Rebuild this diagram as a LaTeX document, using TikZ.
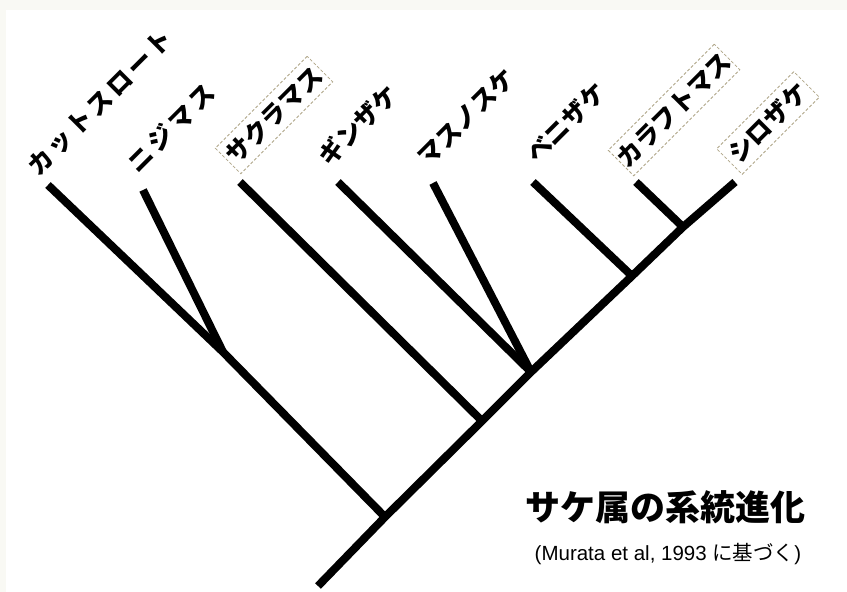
\documentclass[tikz,border=0pt]{standalone}
\usepackage{fontspec}
\setmainfont{Liberation Sans}
\newfontfamily\jp{Noto Sans CJK JP}
\definecolor{bgc}{RGB}{249,249,244}
\definecolor{boxc}{RGB}{175,165,135}
\begin{document}
\begin{tikzpicture}[x=1pt,y=-1pt,
  branch/.style={line width=8pt, line cap=butt, line join=round},
  lbl/.style={font=\jp\bfseries\fontsize{25pt}{25pt}\selectfont, rotate=45, inner sep=0pt},
  boxed/.style={lbl, draw=boxc, densely dashed, line width=0.8pt, minimum height=36pt, fill=white},
  title/.style={font=\jp\bfseries\fontsize{35pt}{35pt}\selectfont, inner sep=0pt},
  source/.style={font=\fontsize{20.5pt}{20.5pt}\selectfont, inner sep=0pt}]
\useasboundingbox (0,0) rectangle (847,592);
\fill[bgc] (0,0) rectangle (847,592);
\fill[white] (6,10) rectangle (847,592);

% tree coordinates
\coordinate (root) at (318,586);
\coordinate (A) at (385,517);
\coordinate (B) at (482,421);
\coordinate (C) at (531,372);
\coordinate (D) at (632,276);
\coordinate (E) at (683,227);
\coordinate (J) at (223,352);
\coordinate (cutT) at (48,185);
\coordinate (nijiT) at (143,190);
\coordinate (sakuraT) at (240,182);
\coordinate (ginT) at (338,182);
\coordinate (masuT) at (433,183);
\coordinate (beniT) at (533,182);
\coordinate (karaT) at (636,182);
\coordinate (shiroT) at (735,182);

% branches
\draw[branch] (root) -- (A) -- (B) -- (C) -- (D) -- (E) -- (shiroT);
\draw[branch] (cutT) -- (J) -- (A);
\draw[branch] (nijiT) -- (J);
\draw[branch] (sakuraT) -- (B);
\draw[branch] (ginT) -- (C);
\draw[branch] (masuT) -- (C);
\draw[branch] (beniT) -- (D);
\draw[branch] (karaT) -- (E);

% labels
\node[lbl] (cut) at (100,103) {カ\kern3pt ッ\kern3pt ト\kern3pt ス\kern3pt ロ\kern3pt ー\kern3pt ト};
\node[lbl] (niji) at (171,128) {ニ\kern4pt ジ\kern4pt マ\kern4pt ス};
\node[boxed, minimum width=130pt] (sakura) at (274,115) {サクラマス};
\node[lbl] (gin) at (358,125) {ギンザケ};
\node[lbl] (masu) at (466,117) {マスノスケ};
\node[lbl] (beni) at (566,123) {ベニザケ};
\node[boxed, minimum width=147pt] (kara) at (674,110) {カラフトマス};
\node[boxed, minimum width=109pt] (shiro) at (768,123) {シロザケ};

% title
\node[title] (ttl) at (665,507) {サケ属の系統進化};
\node[source] (src) at (668,554) {(Murata et al, 1993 {\jp に基づく})};
\end{tikzpicture}
\end{document}
